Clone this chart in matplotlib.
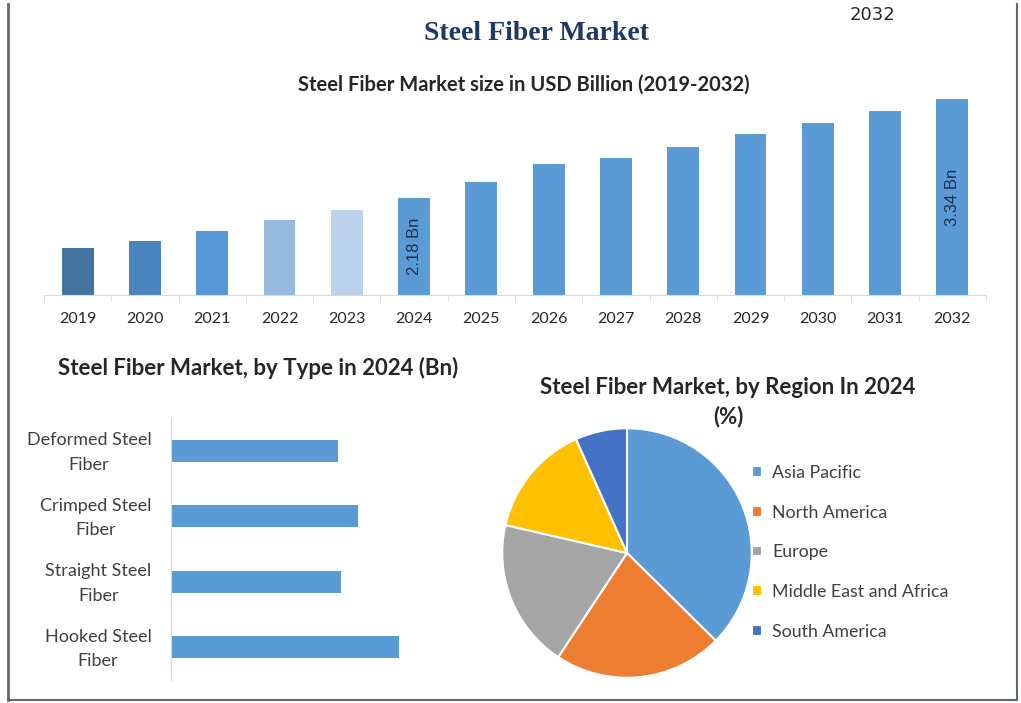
import matplotlib.pyplot as plt
from matplotlib.lines import Line2D
from matplotlib.transforms import ScaledTranslation

# market size by year (USD Bn)
years = ["2019", "2020", "2021", "2022", "2023", "2024", "2025",
         "2026", "2027", "2028", "2029", "2030", "2031", "2032"]
market_size = [1.58, 1.67, 1.78, 1.91, 2.03, 2.18, 2.36,
               2.57, 2.64, 2.78, 2.93, 3.06, 3.20, 3.34]
bar_labels = ["", "", "", "", "", "2.18 Bn", "", "", "", "", "", "", "", "3.34 Bn"]

# by type 2024 (Bn)
types = ["Deformed Steel\nFiber", "Crimped Steel\nFiber", "Straight Steel\nFiber", "Hooked Steel\nFiber"]
type_values = [0.49, 0.55, 0.50, 0.67]

# by region 2024 (%)
regions = ["Asia Pacific", "North America", "Europe", "Middle East and Africa", "South America"]
region_share = [37.4, 21.9, 19.3, 14.7, 6.7]

year_colors = ["#44729E", "#4A84BE", "#5898D6", "#96B9E0", "#BCD1EC"] + ["#5B9BD5"] * 9
region_colors = ["#5B9BD5", "#ED7D31", "#A5A5A5", "#FFC000", "#4472C4"]

plt.rcParams['font.family'] = ['Lato', 'DejaVu Sans']
txt = "#262626"

fig = plt.figure(figsize=(10.21, 7.03), dpi=100)
W, H = 1021, 703

def box(l, t, r, b):
    return [l / W, 1 - b / H, (r - l) / W, (b - t) / H]

# frame around picture
fig.add_artist(Line2D([8 / W, 8 / W], [1 - 4 / H, 1 - 700 / H], color="#5D6B70", lw=2))
fig.add_artist(Line2D([1017 / W, 1017 / W], [1 - 4 / H, 1 - 700 / H], color="#5D6B70", lw=1.5))
fig.add_artist(Line2D([8 / W, 1017 / W], [1 - 700 / H, 1 - 700 / H], color="#5D6B70", lw=1.5))

fig.text(537 / W, 1 - 34 / H, "Steel Fiber Market", ha="center", va="center",
         family="Liberation Serif", fontweight="bold", fontsize=20, color="#1F3864")
fig.text(872 / W, 1 - 15 / H, "2032", ha="center", va="center", fontsize=13, color=txt,
         family="Liberation Sans Narrow")
fig.text(524 / W, 1 - 85 / H, "Steel Fiber Market size in USD Billion (2019-2032)",
         ha="center", va="center", fontweight="bold", fontsize=14.5, color=txt)

# top bar chart
ax1 = fig.add_axes(box(44, 99, 986, 295))
bars = ax1.bar(range(len(years)), market_size, width=0.475, color=year_colors)
ax1.set_ylim(1.032, 3.34)
ax1.set_xlim(-0.5, len(years) - 0.5)
ax1.bar_label(bars, labels=bar_labels, label_type="center", rotation=90,
              fontsize=12, color="#1F2F4F", family="Liberation Sans")
for s in ["top", "right", "left"]:
    ax1.spines[s].set_visible(False)
ax1.spines["bottom"].set_color("#D9D9D9")
ax1.set_yticks([])
ax1.set_xticks(range(len(years)))
ax1.set_xticklabels(years, fontsize=11.5, color=txt)
ax1.tick_params(axis="x", length=0, pad=12)
ax1.set_xticks([i - 0.5 for i in range(len(years) + 1)], minor=True)
ax1.tick_params(axis="x", which="minor", length=4, color="#D9D9D9")
ax1.patch.set_alpha(0)

# by type
fig.text(258 / W, 1 - 368 / H, "Steel Fiber Market, by Type in 2024 (Bn)",
         ha="center", va="center", fontweight="bold", fontsize=16, color=txt)
ax2 = fig.add_axes(box(171, 418, 480, 680))
ax2.barh(range(len(types)), type_values, height=0.34, color="#5B9BD5")
ax2.set_ylim(len(types) - 0.5, -0.5)
ax2.set_xlim(0, 309 / 340)
for s in ["top", "right", "bottom"]:
    ax2.spines[s].set_visible(False)
ax2.spines["left"].set_color("#D9D9D9")
ax2.set_xticks([])
ax2.set_yticks(range(len(types)))
ax2.set_yticklabels(types, fontsize=13, color="#404040", multialignment="center",
                    linespacing=1.65)
ax2.tick_params(axis="y", length=0, pad=14)
shift = ScaledTranslation(0, 4 / 100, fig.dpi_scale_trans)
for lab in ax2.get_yticklabels():
    lab.set_transform(lab.get_transform() + shift)
ax2.patch.set_alpha(0)

# by region
fig.text(728 / W, 1 - 402 / H, "Steel Fiber Market, by Region In 2024\n(%)",
         ha="center", va="center", fontweight="bold", fontsize=16, color=txt,
         linespacing=1.4)
ax3 = fig.add_axes(box(501, 427, 753, 679))
wedges, _ = ax3.pie(region_share, colors=region_colors, startangle=90, counterclock=False,
                    wedgeprops=dict(edgecolor="white", linewidth=1.5))
ax3.set_xlim(-1.01, 1.01)
ax3.set_ylim(-1.01, 1.01)
ax3.set_aspect("equal")
fig.legend(wedges, regions, loc="upper left", bbox_to_anchor=(736 / W, 1 - 449 / H),
           frameon=False, fontsize=12.8, handlelength=0.55, handleheight=0.55,
           handletextpad=0.6, labelspacing=1.33, labelcolor="#404040")

fig.savefig("out.png", dpi=100)
